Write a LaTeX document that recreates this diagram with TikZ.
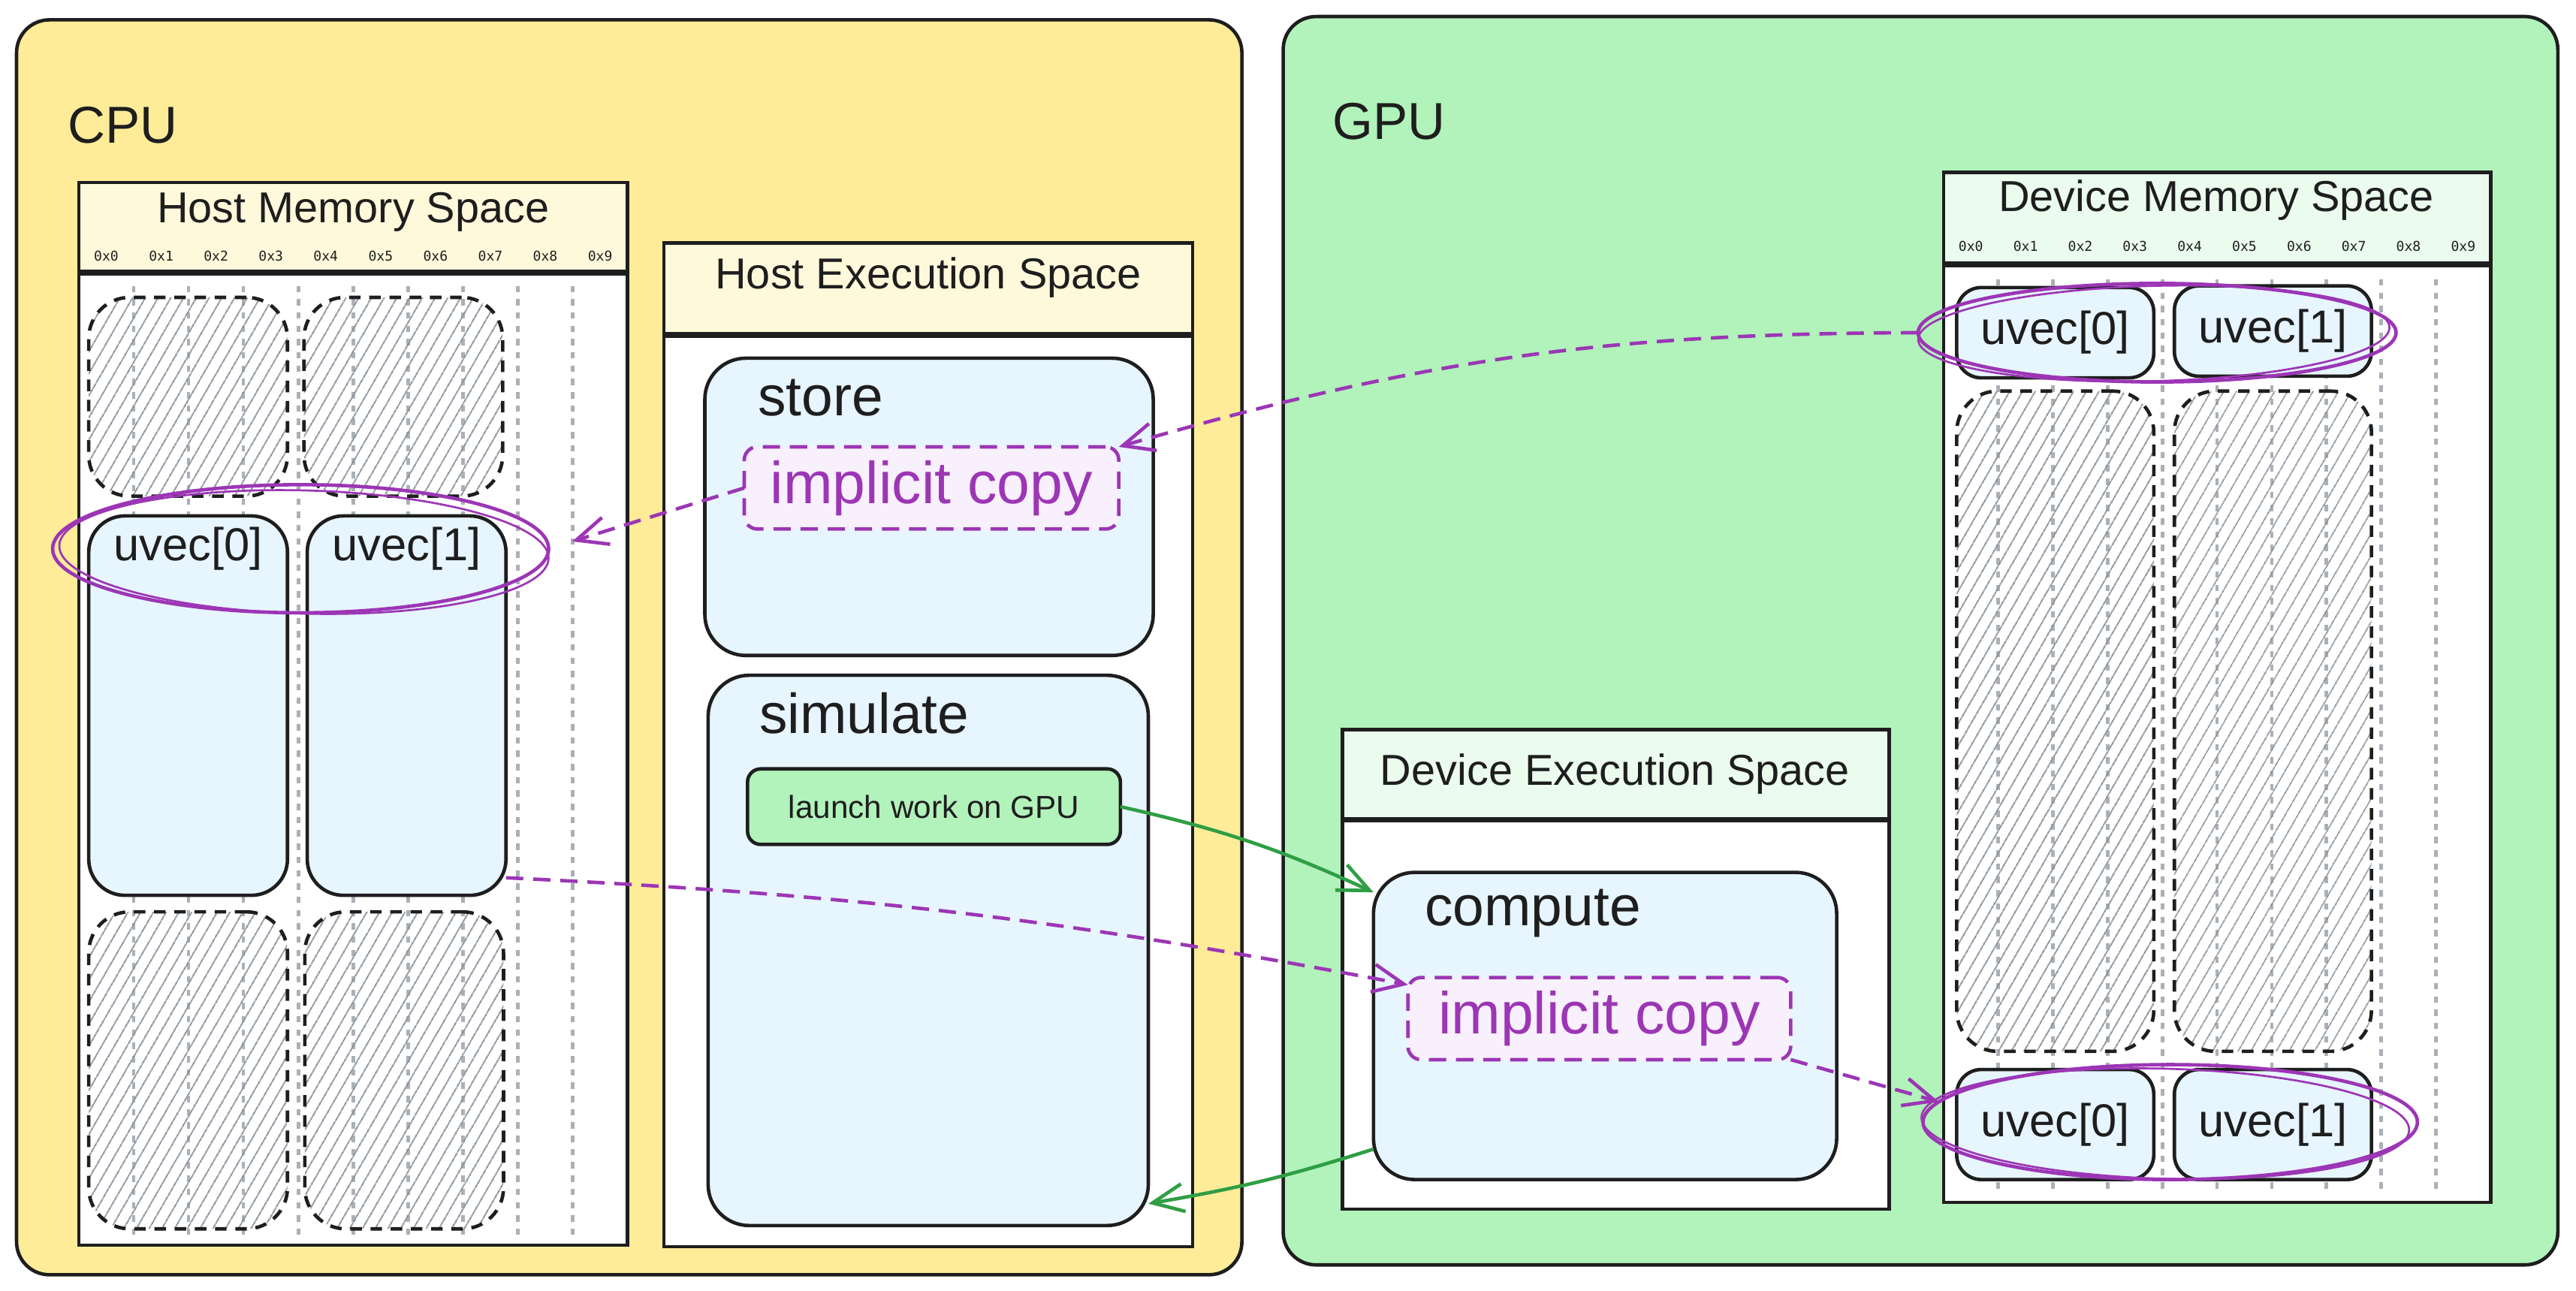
\documentclass[tikz,border=0pt]{standalone}
\usepackage{fontspec}
\setmainfont{Liberation Sans}
\newfontfamily\addrfont{DejaVu Sans Mono}
\usetikzlibrary{positioning, shapes.geometric, patterns.meta, arrows.meta}
\definecolor{myink}{RGB}{30,30,30}
\definecolor{mycpu}{RGB}{255,236,153}
\definecolor{mygpu}{RGB}{178,242,187}
\definecolor{myhosthead}{RGB}{255,249,219}
\definecolor{mydevhead}{RGB}{235,251,238}
\definecolor{myblue}{RGB}{231,245,255}
\definecolor{mypurple}{RGB}{156,54,181}
\definecolor{mylilac}{RGB}{248,240,252}
\definecolor{mygreenline}{RGB}{47,158,68}
\definecolor{mygrid}{RGB}{170,176,182}
\definecolor{myhatch}{RGB}{134,142,150}

\tikzset{
	zone/.style={draw=myink, line width=1.2pt, rounded corners=0.4cm, outer sep=0pt, inner sep=0pt},
	spacehead/.style={draw=myink, line width=1.2pt, outer sep=0pt, inner sep=0pt},
	spacebody/.style={draw=myink, line width=1.2pt, fill=white, outer sep=0pt, inner sep=0pt},
	spacetitle/.style={font=\fontsize{15}{18}\selectfont, text=myink, inner sep=0pt},
	bigtitle/.style={font=\fontsize{18}{22}\selectfont, text=myink, inner sep=0pt},
	addr/.style={font=\addrfont\fontsize{4.7}{6}\selectfont, text=myink, inner sep=0pt},
	memgrid/.style={draw=mygrid, line width=1.2pt, dash pattern=on 2.2pt off 2.4pt},
	freeblk/.style={draw=myink, line width=1.2pt, dash pattern=on 4pt off 3pt, rounded corners=0.5cm,
		pattern={Lines[angle=60,distance=4pt,line width=0.5pt]}, pattern color=myhatch,
		minimum width=2.42cm, outer sep=0pt, inner sep=0pt},
	vecblk/.style={draw=myink, line width=1.2pt, fill=myblue, rounded corners=0.44cm, minimum width=2.42cm,
		outer sep=0pt, inner sep=0pt, text=myink, font=\fontsize{16}{19}\selectfont},
	vectext/.style={font=\fontsize{16}{19}\selectfont, text=myink, inner sep=0pt},
	func/.style={draw=myink, line width=1.2pt, fill=myblue, rounded corners=0.5cm, outer sep=0pt, inner sep=0pt},
	functext/.style={font=\fontsize{19.5}{23}\selectfont, text=myink, inner sep=0pt, anchor=west},
	icopy/.style={draw=mypurple, line width=1.2pt, dash pattern=on 6pt off 3.4pt, fill=mylilac, rounded corners=0.16cm,
		text=mypurple, font=\fontsize{20.5}{24}\selectfont, minimum height=1cm, outer sep=0pt, inner sep=0pt},
	launchbox/.style={draw=myink, line width=1.2pt, fill=mygpu, rounded corners=0.16cm, text=myink,
		font=\fontsize{11}{13}\selectfont, outer sep=0pt, inner sep=0pt},
	selring/.style={ellipse, draw=mypurple, line width=1.2pt, outer sep=0pt, inner sep=0pt},
	copyarrow/.style={draw=mypurple, line width=1.2pt, dash pattern=on 6pt off 3.4pt,
		-{Straight Barb[length=0.38cm,width=0.34cm]}},
	gpuarrow/.style={draw=mygreenline, line width=1.2pt, -{Straight Barb[length=0.38cm,width=0.34cm]}},
}

\begin{document}
\begin{tikzpicture}[x=0.02cm, y=-0.02cm]
\useasboundingbox (0,0) rectangle (1568,785.37);

%---------CPU AND GPU-----------%
\node [zone, fill=mycpu, minimum width=14.92cm, minimum height=15.28cm] (cpu) at (383,394) {};
\node [zone, fill=mygpu, minimum width=15.52cm, minimum height=15.2cm] (gpu) at (1169,390) {};
\node [bigtitle, anchor=west] (cputitle) at (41,76) {CPU};
\node [bigtitle, anchor=west] (gputitle) at (811,74) {GPU};

%---------HOST MEMORY SPACE-----------%
\node [spacehead, fill=myhosthead, minimum width=6.68cm, minimum height=1.1cm] (hostmemhead) at (215,138.5) {};
\node [spacebody, below=0pt of hostmemhead, minimum width=6.68cm, minimum height=11.84cm] (hostmem) {};
\draw [line width=2pt, draw=myink] (hostmemhead.south west) -- (hostmemhead.south east);
\node [spacetitle] (hostmemtitle) at (215,129) {Host Memory Space};

\foreach \i in {0,...,9}{
	\node [addr] (haddr\i) at ({48+33.4*(\i+0.5)},156) {0x\i};
};
\foreach \k in {1,...,9}{
	\draw [memgrid] ({48+33.4*\k},174) -- ({48+33.4*\k},752);
};

\node [freeblk, minimum height=2.42cm] (hfree1) at (114.5,241.5) {};
\node [freeblk, minimum height=2.42cm] (hfree2) at (245.5,241.5) {};
\node [vecblk, minimum height=4.62cm] (huvec0) at (114.5,429.5) {};
\node [vecblk, minimum height=4.62cm] (huvec1) at (247.5,429.5) {};
\node [freeblk, minimum height=3.86cm] (hfree3) at (114.5,651.5) {};
\node [freeblk, minimum height=3.86cm] (hfree4) at (246,651.5) {};
\node [vectext] (huvec0text) at (114.5,334) {uvec[0]};
\node [vectext] (huvec1text) at (247.5,334) {uvec[1]};

%---------HOST EXECUTION SPACE-----------%
\node [spacehead, fill=myhosthead, minimum width=6.44cm, minimum height=1.12cm] (hostexhead) at (565,176) {};
\node [spacebody, below=0pt of hostexhead, minimum width=6.44cm, minimum height=11.1cm] (hostex) {};
\draw [line width=2pt, draw=myink] (hostexhead.south west) -- (hostexhead.south east);
\node [spacetitle] (hostextitle) at (565,169) {Host Execution Space};

\node [func, minimum width=5.46cm, minimum height=3.62cm] (store) at (565.5,308.5) {};
\node [functext] (storetext) at (461,242) {store};
\node [icopy, minimum width=4.56cm] (icopy1) at (567,297) {implicit copy};

\node [func, minimum width=5.36cm, minimum height=6.7cm] (simulate) at (565,578.5) {};
\node [functext] (simtext) at (462,434) {simulate};
\node [launchbox, minimum width=4.54cm, minimum height=0.92cm] (launch) at (568.5,491) {launch work on GPU};

%---------DEVICE EXECUTION SPACE-----------%
\node [spacehead, fill=mydevhead, minimum width=6.66cm, minimum height=1.1cm] (devexhead) at (983.5,471.5) {};
\node [spacebody, below=0pt of devexhead, minimum width=6.66cm, minimum height=4.74cm] (devex) {};
\draw [line width=2pt, draw=myink] (devexhead.south west) -- (devexhead.south east);
\node [spacetitle] (devextitle) at (983,471) {Device Execution Space};

\node [func, minimum width=5.64cm, minimum height=3.74cm] (compute) at (977,624.5) {};
\node [functext] (comptext) at (867,556) {compute};
\node [icopy, minimum width=4.66cm] (icopy2) at (973.5,620) {implicit copy};

%---------DEVICE MEMORY SPACE-----------%
\node [spacehead, fill=mydevhead, minimum width=6.66cm, minimum height=1.12cm] (devmemhead) at (1349.5,133) {};
\node [spacebody, below=0pt of devmemhead, minimum width=6.66cm, minimum height=11.42cm] (devmem) {};
\draw [line width=2pt, draw=myink] (devmemhead.south west) -- (devmemhead.south east);
\node [spacetitle] (devmemtitle) at (1349,122) {Device Memory Space};

\foreach \i in {0,...,9}{
	\node [addr] (daddr\i) at ({1183+33.3*(\i+0.5)},150) {0x\i};
};
\foreach \k in {1,...,9}{
	\draw [memgrid] ({1183+33.3*\k},170) -- ({1183+33.3*\k},726);
};

\node [vecblk, minimum width=2.4cm, minimum height=1.1cm, rounded corners=0.3cm] (duvec0) at (1251,202.5) {uvec[0]};
\node [vecblk, minimum width=2.4cm, minimum height=1.1cm, rounded corners=0.3cm] (duvec1) at (1383.5,201.5) {uvec[1]};
\node [freeblk, minimum width=2.4cm, minimum height=8.04cm] (dfree1) at (1251,439) {};
\node [freeblk, minimum width=2.4cm, minimum height=8.04cm] (dfree2) at (1383.5,439) {};
\node [vecblk, minimum width=2.4cm, minimum height=1.34cm, rounded corners=0.3cm] (duvec2) at (1251,684.5) {uvec[0]};
\node [vecblk, minimum width=2.4cm, minimum height=1.34cm, rounded corners=0.3cm] (duvec3) at (1383.5,684.5) {uvec[1]};

%---------SELECTION RINGS-----------%
\node [selring, minimum width=6.04cm, minimum height=1.56cm] (hostsel) at (183,334) {};
\node [selring, line width=0.7pt, rotate=-1.5, minimum width=5.96cm, minimum height=1.5cm] (hostsel2) at (185,336) {};
\node [selring, minimum width=5.82cm, minimum height=1.2cm] (devtopsel) at (1313,202.5) {};
\node [selring, line width=0.7pt, rotate=1.5, minimum width=5.74cm, minimum height=1.16cm] (devtopsel2) at (1311,203) {};
\node [selring, minimum width=6.02cm, minimum height=1.4cm] (devbotsel) at (1321,683) {};
\node [selring, line width=0.7pt, rotate=-1.5, minimum width=5.94cm, minimum height=1.34cm] (devbotsel2) at (1318,684) {};

%---------COPIES-----------%
\draw [copyarrow] (devtopsel.west) to [bend right=8] (icopy1.north east);
\draw [copyarrow, shorten >=0.3cm] (icopy1.west) to (hostsel.east);
\draw [copyarrow] (huvec1.-60) to [bend left=4] (icopy2.170);
\draw [copyarrow] (icopy2.south east) to (devbotsel.175);

%---------KERNEL LAUNCH-----------%
\draw [gpuarrow] (launch.east) to [bend left=6] (compute.150);
\draw [gpuarrow] (compute.208) to [bend left=4] (simulate.-49);

\end{tikzpicture}
\end{document}
